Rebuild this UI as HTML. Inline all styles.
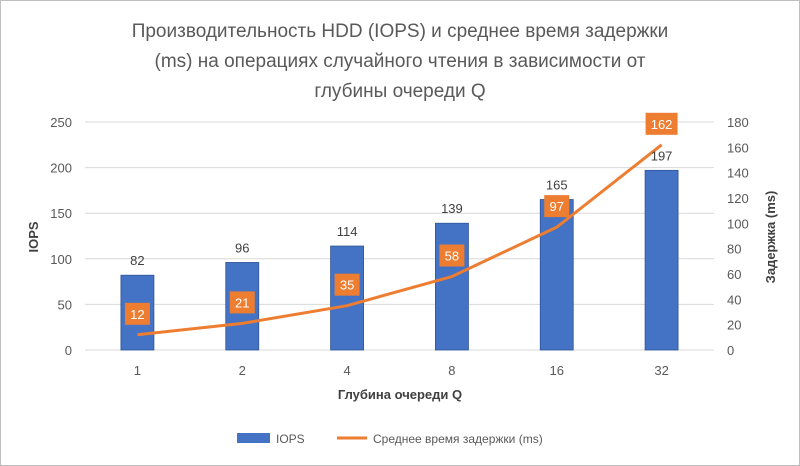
<!DOCTYPE html>
<html><head><meta charset="utf-8"><style>
body{margin:0;background:#fff;}
svg{display:block;font-family:"Liberation Sans","DejaVu Sans",sans-serif;}
</style></head><body>
<svg id="chart" width="800" height="466">
<rect x="0.5" y="0.5" width="799" height="465" fill="#fff" stroke="#bfbfbf"/>
<g fill="#595959" font-size="19" text-anchor="middle">
<text x="400" y="37">Производительность HDD (IOPS) и среднее время задержки</text>
<text x="400" y="67">(ms) на операциях случайного чтения в зависимости от</text>
<text x="400" y="97">глубины очереди Q</text>
</g>
<g id="grid"></g><g id="bars"></g><g id="line"></g><g id="labels"></g>
<text transform="translate(38,237) rotate(-90)" text-anchor="middle" font-size="13" font-weight="bold" fill="#404040">IOPS</text>
<text transform="translate(775,237) rotate(-90)" text-anchor="middle" font-size="13" font-weight="bold" fill="#404040">Задержка (ms)</text>
<text x="400" y="399" text-anchor="middle" font-size="13" font-weight="bold" fill="#404040">Глубина очереди Q</text>
<g>
<rect x="237" y="433" width="33" height="10" fill="#4472c4"/>
<text x="276" y="443" font-size="12" fill="#595959">IOPS</text>
<line x1="337" y1="438" x2="367" y2="438" stroke="#ed7d31" stroke-width="3"/>
<text x="373" y="443" font-size="12" fill="#595959">Среднее время задержки (ms)</text>
</g>
</svg>
<script>
const categories=["1","2","4","8","16","32"];
const iops=[82,96,114,139,165,197];
const latency=[12,21,35,58,97,162];
const leftTicks=[0,50,100,150,200,250];
const rightTicks=[0,20,40,60,80,100,120,140,160,180];
const NS="http://www.w3.org/2000/svg";
const x0=85,x1=714,yB=350,yT=122;
const step=(x1-x0)/categories.length;
const xs=i=>x0+step*(i+0.5);
const yL=v=>yB-v/250*(yB-yT);
const yR=v=>yB-v/180*(yB-yT);
function mk(tag,attrs,parent,txt){const e=document.createElementNS(NS,tag);for(const k in attrs)e.setAttribute(k,attrs[k]);if(txt!==undefined)e.textContent=txt;document.getElementById(parent).appendChild(e);return e;}
leftTicks.forEach(t=>{
 const l=mk('line',{x1:x0,x2:x1,y1:yL(t),y2:yL(t),stroke:'#d9d9d9','stroke-width':1},'grid');
 
 
 const tx=mk('text',{x:72,y:yL(t)+5,'text-anchor':'end','font-size':13,fill:'#595959'},'grid',t);
 
 
});
rightTicks.forEach(t=>{
 const tx=mk('text',{x:727,y:yR(t)+5,'font-size':13,fill:'#595959'},'grid',t);
 
 
});
categories.forEach((c,i)=>{
 const tx=mk('text',{x:xs(i),y:375,'text-anchor':'middle','font-size':13,fill:'#595959'},'grid',c);
 
 
 const b=mk('rect',{x:xs(i)-16.5,y:yL(iops[i]),width:33,height:yB-yL(iops[i]),fill:'#4472c4',stroke:'#2f5597','stroke-width':0.8},'bars');
 
 
 const bl=mk('text',{x:xs(i),y:yL(iops[i])-10,'text-anchor':'middle','font-size':13,fill:'#404040'},'labels',iops[i]);
 
 
});
const pts=latency.map((v,i)=>xs(i)+','+yR(v)).join(' ');
const pl=mk('polyline',{points:pts,fill:'none',stroke:'#ed7d31','stroke-width':3,'stroke-linejoin':'round'},'line');


latency.forEach((v,i)=>{
 const cy=yR(v)-21,w=String(v).length>2?32:25;
 const r=mk('rect',{x:xs(i)-w/2,y:cy-11,width:w,height:22,fill:'#ed7d31'},'labels');
 
 
 const t=mk('text',{x:xs(i),y:cy+5,'text-anchor':'middle','font-size':13,fill:'#fff'},'labels',v);
 
 
});
</script>
</body></html>
